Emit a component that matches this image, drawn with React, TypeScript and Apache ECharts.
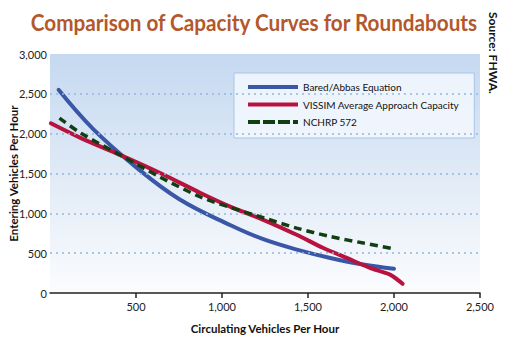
import React, { useEffect, useRef } from "react";
import * as echarts from "echarts";

const titleText = "Comparison of Capacity Curves for Roundabouts";
const sourceText = "Source: FHWA.";
const xAxisName = "Circulating Vehicles Per Hour";
const yAxisName = "Entering Vehicles Per Hour";
const xTicks = [500, 1000, 1500, 2000, 2500];
const yGridLines = [500, 1000, 1500, 2000, 2500];

const seriesNames = ["Bared/Abbas Equation", "VISSIM Average Approach Capacity", "NCHRP 572"];

const baredX = [50, 250, 500, 750, 1050, 1240, 1435, 1630, 1820, 2000];
const baredY = [2550, 2060, 1580, 1180, 850, 675, 545, 440, 358, 305];

const vissimX = [5, 180, 410, 640, 875, 1047, 1240, 1434, 1589, 1725, 1860, 1977, 2050];
const vissimY = [2130, 1944, 1731, 1506, 1256, 1085, 919, 731, 565, 440, 315, 231, 115];

const nchrpX = [55, 180, 410, 640, 875, 1047, 1240, 1434, 1628, 1822, 1996];
const nchrpY = [2195, 2005, 1730, 1455, 1205, 1075, 945, 815, 710, 627, 556];

const zip = (xs: number[], ys: number[]) => xs.map((x, i) => [x, ys[i]]);

const FONT = "Lato, sans-serif";
const BLUE = "#3957a6";
const RED = "#b8123f";
const GREEN = "#123f12";

export default function App() {
  const ref = useRef<HTMLDivElement>(null);
  useEffect(() => {
    if (!ref.current) return;
    const chart = echarts.init(ref.current, undefined, { renderer: "svg" });
    chart.setOption({
      animation: false,
      backgroundColor: "#ffffff",
      graphic: [
        {
          type: "text",
          x: 254,
          y: 22,
          scaleX: 0.9,
          style: {
            text: titleText,
            fontFamily: FONT,
            fontWeight: "bold",
            fontSize: 23,
            fill: "#b3582c",
            textAlign: "center",
            textVerticalAlign: "middle",
          },
        },
        {
          type: "text",
          x: 493,
          y: 12,
          rotation: -Math.PI / 2,
          style: {
            text: sourceText,
            fontFamily: FONT,
            fontWeight: "bold",
            fontSize: 12,
            fill: "#111",
            textAlign: "left",
            textVerticalAlign: "middle",
          },
        },
      ],
      legend: {
        orient: "vertical",
        left: 234,
        top: 73,
        data: [
          { name: seriesNames[0], icon: "rect" },
          { name: seriesNames[1], icon: "rect" },
          { name: seriesNames[2], icon: "path://M0 0h12v4H0z M15 0h12v4H15z M30 0h12v4H30z M45 0h5v4H45z" },
        ],
        itemWidth: 50,
        itemHeight: 4,
        itemGap: 7.5,
        padding: [9, 15, 11, 14],
        backgroundColor: "rgba(248,251,255,0.75)",
        borderColor: "#a8c5e6",
        borderWidth: 1,
        borderRadius: 0,
        textStyle: { fontFamily: FONT, fontSize: 10, color: "#111" },
      },
      grid: {
        left: 50,
        right: 25,
        top: 54,
        bottom: 58,
        containLabel: false,
        outerBoundsMode: "none",
        show: true,
        borderWidth: 0,
        backgroundColor: new echarts.graphic.LinearGradient(0, 0, 0, 1, [
          { offset: 0, color: "#c5d9f1" },
          { offset: 0.5, color: "#e0eaf6" },
          { offset: 1, color: "#fbfcfe" },
        ]),
      },
      xAxis: {
        type: "value",
        min: 0,
        max: 2500,
        interval: 500,
        name: xAxisName,
        nameLocation: "middle",
        nameGap: 29,
        nameMoveOverlap: false,
        nameTextStyle: { fontFamily: FONT, fontWeight: "bold", fontSize: 11.5, color: "#111" },
        axisLine: { show: true, lineStyle: { color: "#222", width: 1.5 } },
        axisTick: { show: true, length: 5, lineStyle: { color: "#222", width: 1.5 }, customValues: xTicks },
        axisLabel: {
          customValues: xTicks,
          fontFamily: FONT,
          fontSize: 11,
          color: "#222",
          margin: 8,
          formatter: (v: number) => v.toLocaleString("en-US"),
        },
        splitLine: { show: false },
      },
      yAxis: {
        type: "value",
        min: 0,
        max: 3000,
        interval: 500,
        name: yAxisName,
        nameLocation: "middle",
        nameGap: 31,
        nameMoveOverlap: false,
        nameTextStyle: { fontFamily: FONT, fontWeight: "bold", fontSize: 11.5, color: "#111" },
        axisLine: { show: false },
        axisTick: { show: false },
        axisLabel: {
          fontFamily: FONT,
          fontSize: 11,
          color: "#222",
          margin: 3,
          formatter: (v: number) => v.toLocaleString("en-US"),
        },
        splitLine: { show: false },
      },
      series: [
        {
          name: "gridlines",
          type: "line",
          data: [],
          silent: true,
          z: 1,
          markLine: {
            silent: true,
            symbol: "none",
            label: { show: false },
            lineStyle: { color: "#93b7df", type: [2, 4], width: 1.5 },
            data: yGridLines.map((v) => ({ yAxis: v })),
          },
        },
        {
          name: seriesNames[0],
          type: "line",
          data: zip(baredX, baredY),
          smooth: 0.4,
          showSymbol: false,
          symbol: "none",
          z: 3,
          lineStyle: { color: BLUE, width: 4, cap: "round" },
          itemStyle: { color: BLUE },
        },
        {
          name: seriesNames[1],
          type: "line",
          data: zip(vissimX, vissimY),
          smooth: 0.3,
          showSymbol: false,
          symbol: "none",
          z: 4,
          lineStyle: { color: RED, width: 4, cap: "round" },
          itemStyle: { color: RED },
        },
        {
          name: seriesNames[2],
          type: "line",
          data: zip(nchrpX, nchrpY),
          smooth: 0.3,
          showSymbol: false,
          symbol: "none",
          z: 5,
          lineStyle: { color: GREEN, width: 3.5, type: [8, 5] },
          itemStyle: { color: GREEN },
        },
      ],
    });
    return () => chart.dispose();
  }, []);
  return <div ref={ref} style={{ position: "fixed", left: 0, top: 0, width: 505, height: 351 }} />;
}
